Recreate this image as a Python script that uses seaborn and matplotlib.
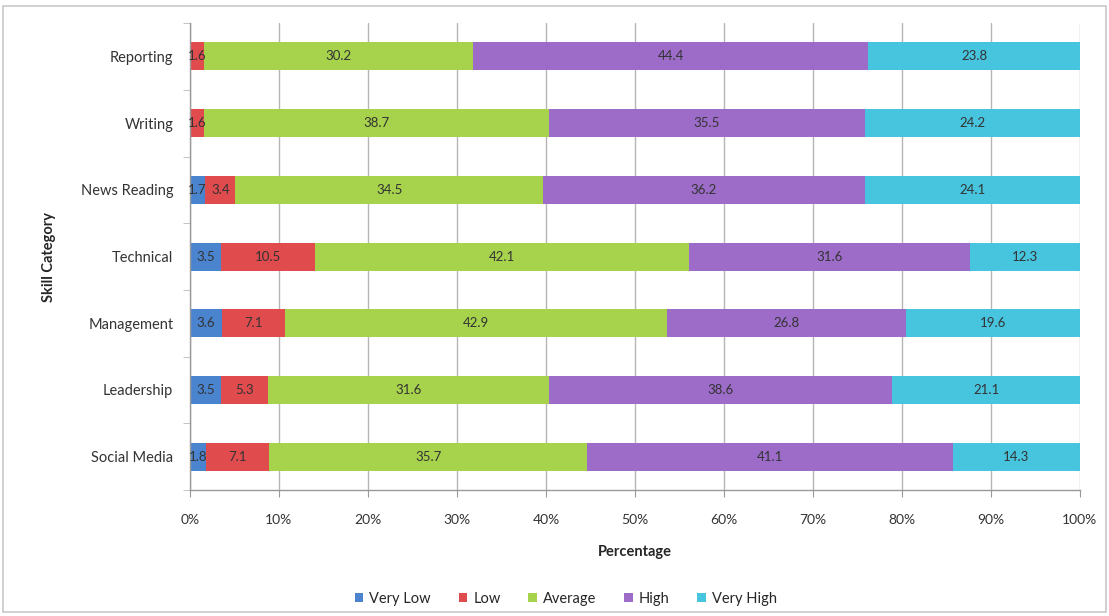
import numpy as np
import pandas as pd
import seaborn as sns
import matplotlib.pyplot as plt
from matplotlib.patches import Rectangle, Patch

categories = ['Reporting', 'Writing', 'News Reading', 'Technical', 'Management', 'Leadership', 'Social Media']
levels = ['Very Low', 'Low', 'Average', 'High', 'Very High']
very_low = [0.0, 0.0, 1.7, 3.5, 3.6, 3.5, 1.8]
low = [1.6, 1.6, 3.4, 10.5, 7.1, 5.3, 7.1]
average = [30.2, 38.7, 34.5, 42.1, 42.9, 31.6, 35.7]
high = [44.4, 35.5, 36.2, 31.6, 26.8, 38.6, 41.1]
very_high = [23.8, 24.2, 24.1, 12.3, 19.6, 21.1, 14.3]
colors = ['#4a84cf', '#e04b4e', '#a6d24c', '#9c6cc8', '#47c5df']

df = pd.DataFrame({'Very Low': very_low, 'Low': low, 'Average': average,
                   'High': high, 'Very High': very_high}, index=categories)
# 100% stacked -> normalise each row
pct = df.div(df.sum(axis=1), axis=0) * 100
cum = pct.cumsum(axis=1)

sns.set_style('white')
plt.rcParams['font.family'] = ['Lato', 'DejaVu Sans']

fig = plt.figure(figsize=(11.09, 6.16), dpi=100)
ax = fig.add_axes([0.1713, 0.2045, 0.8025, 0.758])

# stacked bars: draw cumulative totals from the longest down
for lvl, col in reversed(list(zip(levels, colors))):
    sns.barplot(x=cum[lvl].values, y=categories, orient='h', color=col,
                width=0.42, ax=ax, saturation=1, edgecolor='none', zorder=2)

# value labels in the middle of each segment
for i, cat in enumerate(categories):
    for lvl in levels:
        v = df.loc[cat, lvl]
        if v <= 0:
            continue
        mid = cum.loc[cat, lvl] - pct.loc[cat, lvl] / 2
        ax.text(mid, i, f'{v:.1f}', ha='center', va='center', fontsize=9.5,
                color='#333333', zorder=3)

ax.set_xlim(0, 100)
ax.set_ylim(6.5, -0.5)
ax.set_xticks(np.arange(0, 101, 10))
ax.set_xticklabels([f'{t}%' for t in range(0, 101, 10)], fontsize=10, color='#333333')
ax.tick_params(axis='y', labelsize=10.5, colors='#333333', length=0, pad=12)
ax.tick_params(axis='x', length=5, color='#999999', direction='out', bottom=True, pad=12)
ax.set_yticks(np.arange(-0.5, 7, 1), minor=True)
ax.tick_params(axis='y', which='minor', length=5, color='#bbbbbb', left=True)
ax.grid(axis='x', color='#b5b5b5', linewidth=1, zorder=0)
ax.set_axisbelow(True)
for s in ['top', 'right']:
    ax.spines[s].set_visible(False)
for s in ['left', 'bottom']:
    ax.spines[s].set_color('#999999')
    ax.spines[s].set_linewidth(1)

ax.set_xlabel('Percentage', fontsize=10.5, fontweight='bold', labelpad=14)
ax.set_ylabel('Skill Category', fontsize=10.5, fontweight='bold', labelpad=18)

handles = [Patch(facecolor=c, edgecolor='none') for c in colors]
fig.legend(handles, levels, loc='center', bbox_to_anchor=(0.51, 0.028), ncol=5,
           frameon=False, fontsize=10.5, handlelength=0.6, handleheight=0.6,
           handletextpad=0.4, columnspacing=1.9)

# outer chart frame
fig.patches.append(Rectangle((0.003, 0.006), 0.994, 0.984, transform=fig.transFigure,
                             fill=False, edgecolor='#c8c8c8', linewidth=1.2))

fig.savefig('out.png', dpi=100)
plt.close()
